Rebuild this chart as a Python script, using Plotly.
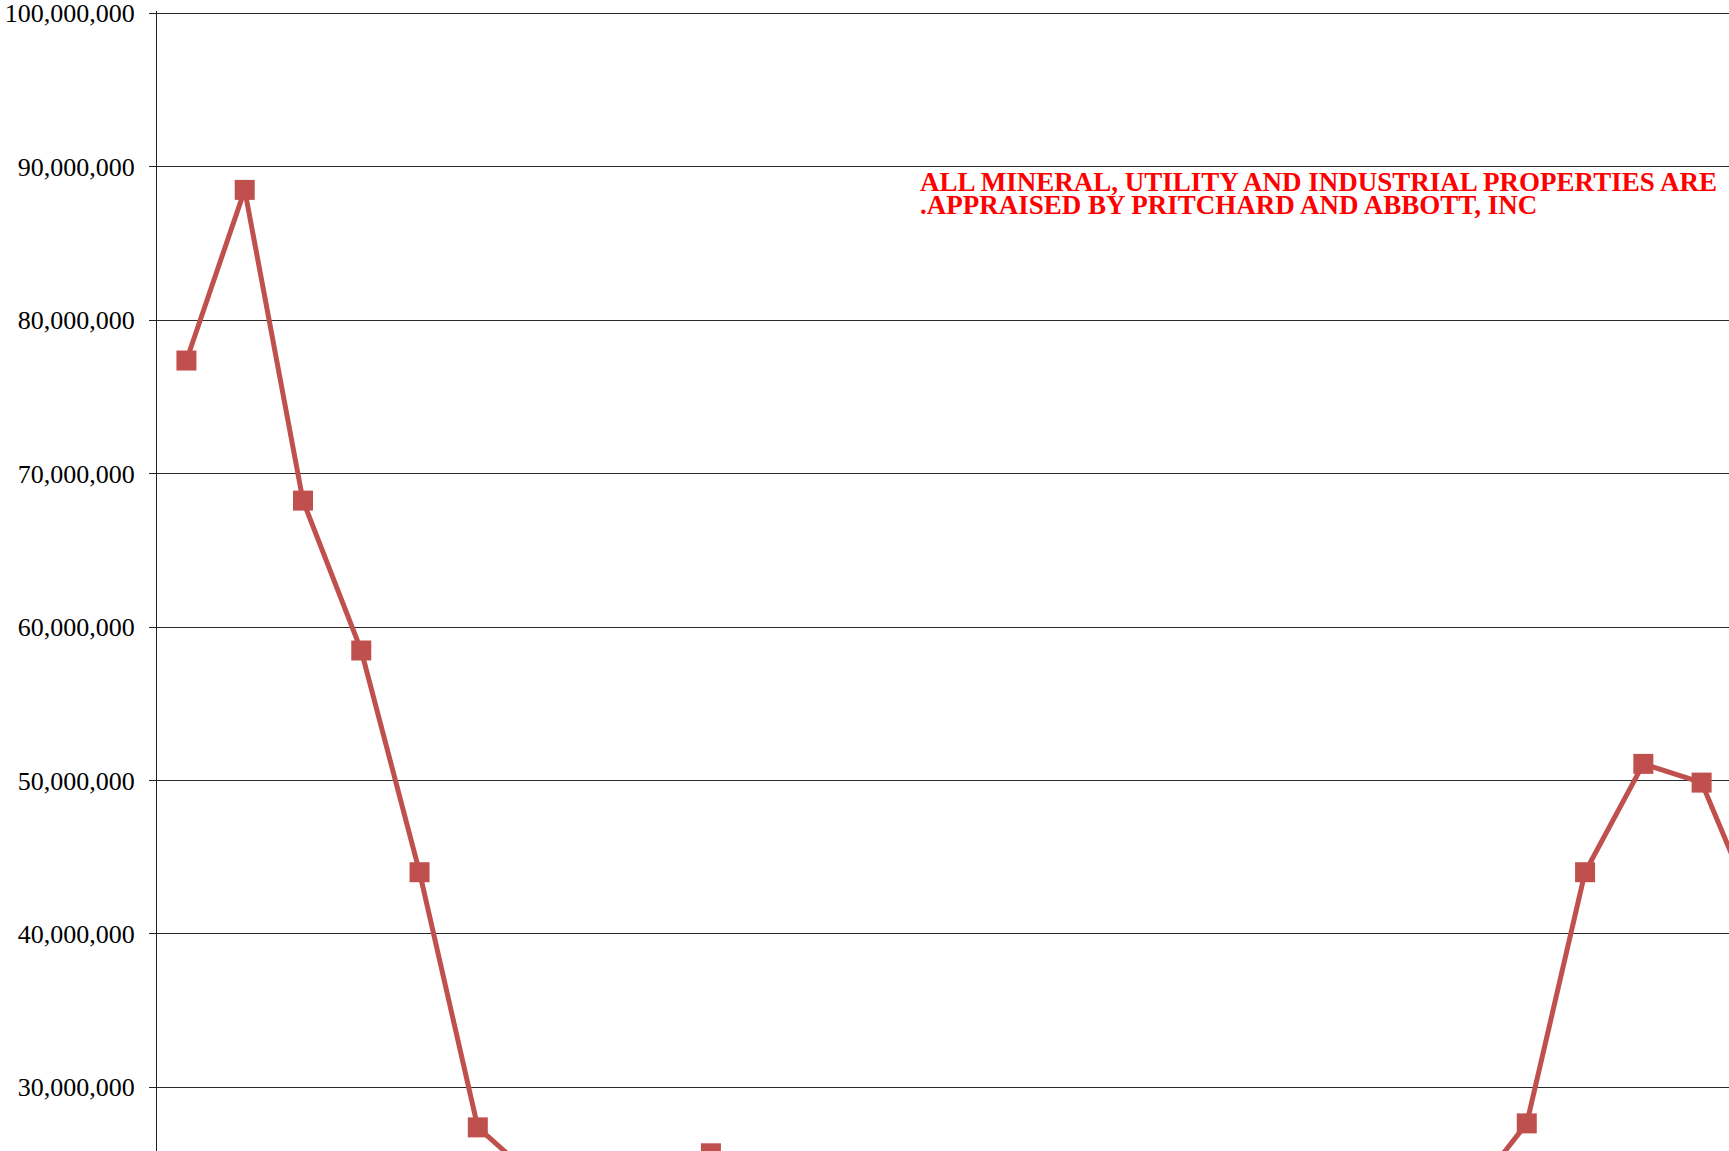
import plotly.graph_objects as go

# Category positions (periods) and assessed values (USD)
periods = ["1983", "1984", "1985", "1986", "1987", "1988", "1989", "1990", "1991", "1992",
           "1993", "1994", "1995", "1996", "1997", "1998", "1999", "2000", "2001", "2002",
           "2003", "2004", "2005", "2006", "2007", "2008", "2009", "2010"]
values = [77370000, 88490000, 68240000, 58470000, 44020000, 27390000, 24000000, 22900000,
          23800000, 25700000, 24600000, 23100000, 21800000, 20700000, 19900000, 19300000,
          19600000, 20200000, 20900000, 21500000, 22100000, 22400000, 22800000, 27650000,
          44020000, 51080000, 49860000, 40800000]

y_ticks = [30000000, 40000000, 50000000, 60000000, 70000000, 80000000, 90000000, 100000000]
note_lines = ["ALL MINERAL, UTILITY AND INDUSTRIAL PROPERTIES ARE",
              ".APPRAISED BY PRITCHARD AND ABBOTT, INC"]

SERIF = "Times New Roman, Liberation Serif, serif"
RED = "#C0504D"

fig = go.Figure()
fig.add_trace(go.Scatter(
    x=list(range(len(periods))), y=values, mode="lines+markers",
    line=dict(color=RED, width=5),
    marker=dict(symbol="square", size=20, color=RED),
    hoverinfo="skip", showlegend=False,
))

fig.update_layout(
    width=1729, height=1151,
    margin=dict(l=157, r=0, t=11, b=0, autoexpand=False),
    paper_bgcolor="white", plot_bgcolor="white",
    showlegend=False,
    xaxis=dict(range=[-0.505, 26.47], showgrid=False, zeroline=False,
               showticklabels=False, ticks="", showline=False),
    yaxis=dict(range=[25850000, 100150000], tickvals=y_ticks, tickformat=",d",
               showgrid=True, gridcolor="#2a2a2a", gridwidth=1,
               zeroline=False, showline=True, linecolor="#222", linewidth=1,
               ticks="outside", ticklen=7, tickcolor="#222", tickwidth=1,
               ticklabelstandoff=9, ticklabeloverflow="allow",
               tickfont=dict(family=SERIF, size=26, color="black"),
               automargin=False),
)

for i, (line, py) in enumerate(zip(note_lines, [0.8500, 0.8302])):
    fig.add_annotation(
        x=0.484, y=py, xref="paper", yref="paper", xanchor="left", yanchor="middle",
        text="<b>" + line + "</b>", showarrow=False,
        font=dict(family=SERIF, size=27, color="#FF0000"),
    )

fig.write_html(
    "out.html",
    config={"displayModeBar": False},
    post_script="document.body.style.margin='0';document.body.style.overflow='hidden';",
)
